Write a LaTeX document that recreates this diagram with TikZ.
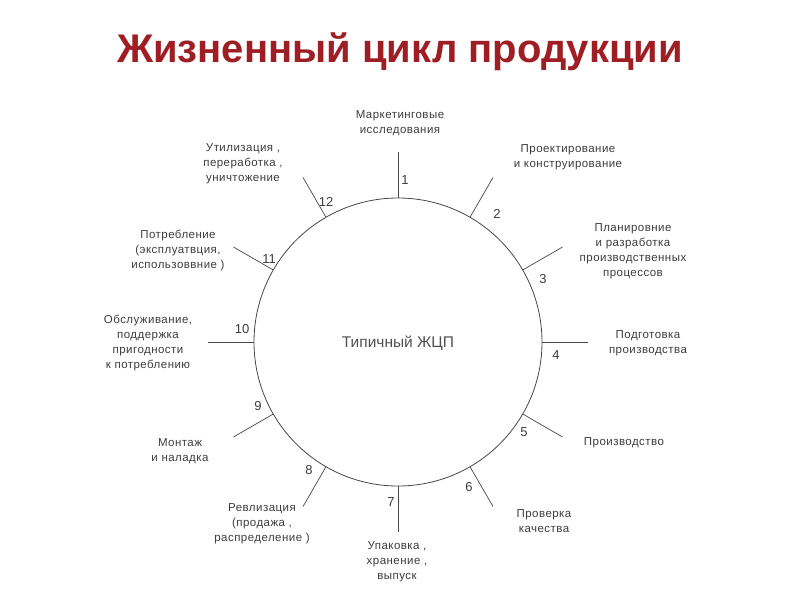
\documentclass[tikz,border=0pt]{standalone}
\usepackage{fontspec}
\setmainfont{Liberation Sans}
\newfontfamily\lblfont[LetterSpace=4]{Liberation Sans}
\usetikzlibrary{calc}
\definecolor{titlered}{RGB}{158,30,36}
\definecolor{txtgray}{RGB}{60,60,60}
\definecolor{linegray}{RGB}{70,70,70}
\begin{document}
\begin{tikzpicture}[x=1pt,y=-1pt,
  lbl/.style={align=center,text=txtgray,font=\lblfont\fontsize{11.5}{15}\selectfont,inner sep=0pt},
  num/.style={text=txtgray,font=\fontsize{13}{15}\selectfont,inner sep=0pt},
  tick/.style={draw=linegray,line width=0.7pt}]
\useasboundingbox (0,0) rectangle (800,600);
\node[text=titlered,font=\fontsize{40}{44}\selectfont\bfseries] (title) at (400,52) {Жизненный цикл продукции};
\node[draw=linegray,line width=0.8pt,circle,minimum size=288pt,inner sep=0pt] (c) at (398,342) {};
\node[text=txtgray!90,font=\fontsize{15.5}{18}\selectfont] (center) at (398,343) {Типичный ЖЦП};
% ticks
\foreach \k in {1,...,12}{
  \pgfmathsetmacro{\ang}{90-30*(\k-1)}
  \coordinate (o\k) at ($(c.center)+({190*cos(\ang)},{-190*sin(\ang)})$);
  \draw[tick] (c.\ang) -- (o\k);
}
% numbers
\node[num] (n1) at (405,180) {1};
\node[num] (n2) at (497,214) {2};
\node[num] (n3) at (543,279) {3};
\node[num] (n4) at (556,355) {4};
\node[num] (n5) at (524,432) {5};
\node[num] (n6) at (469,487) {6};
\node[num] (n7) at (391,502) {7};
\node[num] (n8) at (309,470) {8};
\node[num] (n9) at (258,406) {9};
\node[num] (n10) at (242,329) {10};
\node[num] (n11) at (269,259) {11};
\node[num] (n12) at (326,202) {12};
% labels
\node[lbl] (l1) at (400,123) {Маркетинговые\\исследования};
\node[lbl] (l2) at (568,157) {Проектирование\\и конструирование};
\node[lbl] (l3) at (633,251) {Планировние\\и разработка\\производственных\\процессов};
\node[lbl] (l4) at (648,343) {Подготовка\\производства};
\node[lbl] (l5) at (624,443) {Производство};
\node[lbl] (l6) at (544,521) {Проверка\\качества};
\node[lbl] (l7) at (397,562) {Упаковка ,\\хранение ,\\выпуск};
\node[lbl] (l8) at (262,524) {Ревлизация\\(продажа ,\\распределение )};
\node[lbl] (l9) at (180,451) {Монтаж\\и наладка};
\node[lbl] (l10) at (148,343) {Обслуживание,\\поддержка\\пригодности\\к потреблению};
\node[lbl] (l11) at (178,250) {Потребление\\(эксплуатвция,\\использоввние )};
\node[lbl] (l12) at (243,164) {Утилизация ,\\переработка ,\\уничтожение};
\end{tikzpicture}
\end{document}
